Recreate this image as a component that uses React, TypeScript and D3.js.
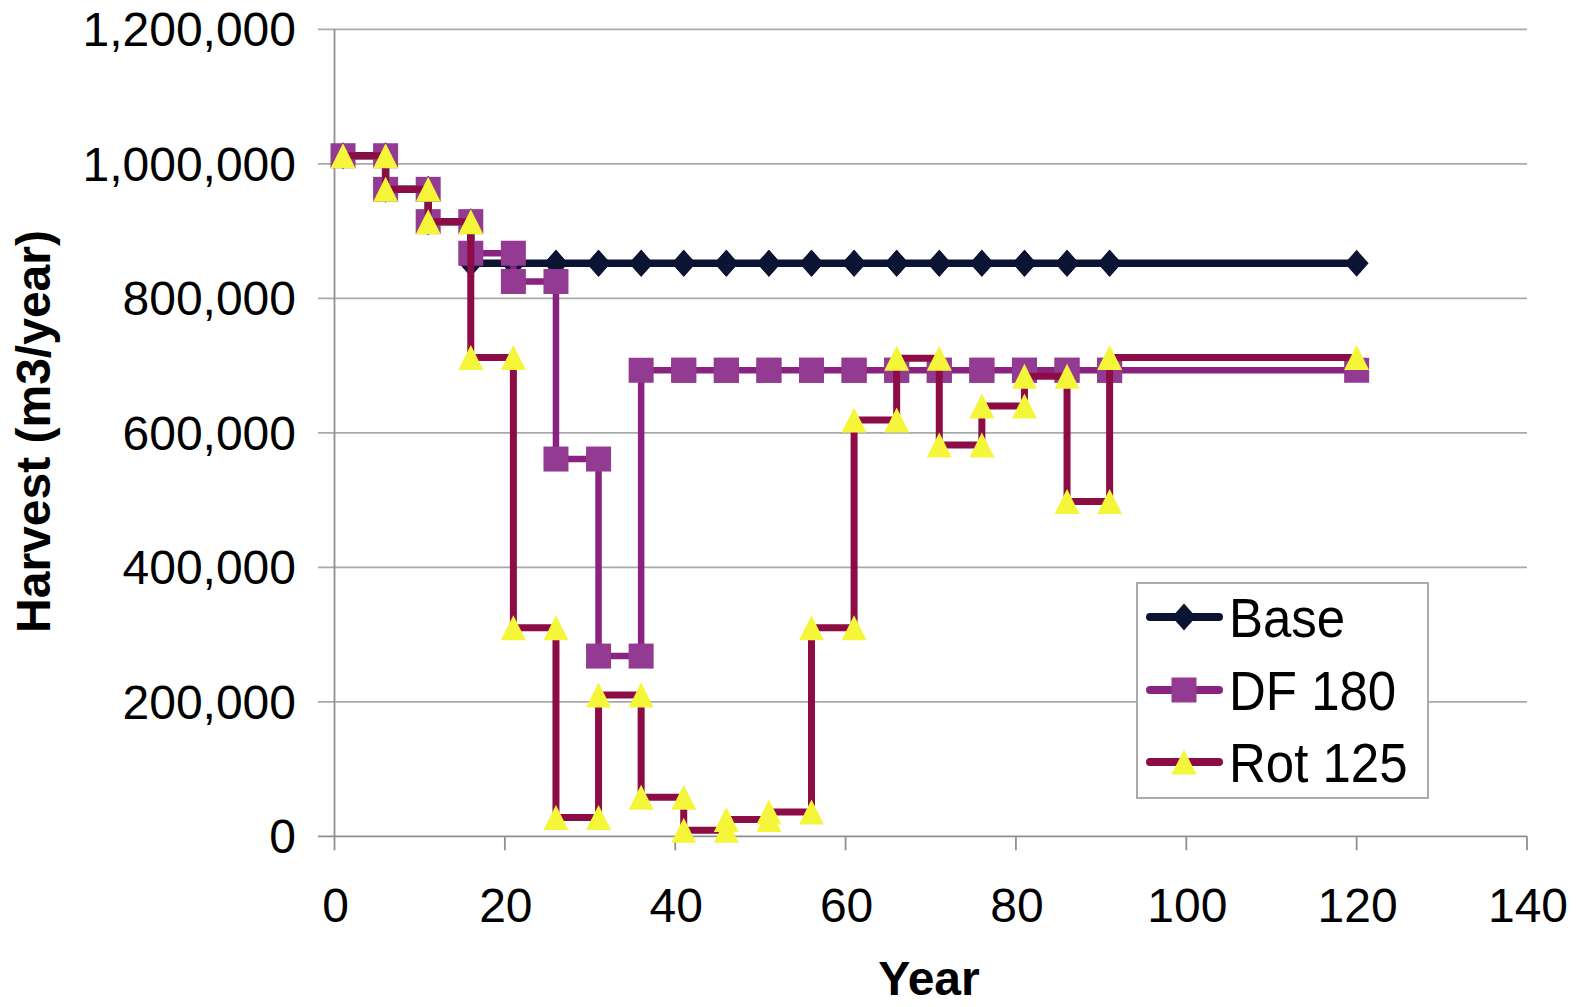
import React from "react";
import * as d3 from "d3";

// Period boundaries (years)
const years = [1, 6, 11, 16, 21, 26, 31, 36, 41, 46, 51, 56, 61, 66, 71, 76, 81, 86, 91, 120];

// Harvest level held during each period [years[i], years[i+1]] (m3/year)
const baseValues = [1012000, 962000, 914000, 852000, 852000, 852000, 852000, 852000, 852000, 852000, 852000, 852000, 852000, 852000, 852000, 852000, 852000, 852000, 852000];
const df180Values = [1012000, 962000, 914000, 867000, 825000, 561000, 268000, 693000, 693000, 693000, 693000, 693000, 693000, 693000, 693000, 693000, 693000, 693000, 693000];
const rot125Values = [1012000, 962000, 914000, 712000, 310000, 28000, 210000, 58000, 9000, 25000, 36000, 310000, 619000, 711000, 582000, 640000, 684000, 498000, 712000];

const xTicks = [0, 20, 40, 60, 80, 100, 120, 140];
const yTicks = [0, 200000, 400000, 600000, 800000, 1000000, 1200000];

const seriesNames = ["Base", "DF 180", "Rot 125"];

const FONT = "'Liberation Sans', Arial, Helvetica, sans-serif";

type Pt = [number, number];

function stepPoints(vals: number[]): Pt[] {
  const pts: Pt[] = [];
  vals.forEach((v, i) => {
    pts.push([years[i], v]);
    pts.push([years[i + 1], v]);
  });
  return pts;
}

export default function App() {
  const W = 1576;
  const H = 1007;
  const x = d3.scaleLinear().domain([0, 140]).range([334.5, 1527]);
  const y = d3.scaleLinear().domain([0, 1200000]).range([836.3, 29.3]);
  const line = d3
    .line<Pt>()
    .x((d) => x(d[0]))
    .y((d) => y(d[1]));

  const basePts = stepPoints(baseValues);
  const dfPts = stepPoints(df180Values);
  const rotPts = stepPoints(rot125Values);

  const baseColor = "#0b1433";
  const dfLine = "#8a237f";
  const dfFill = "#933a93";
  const rotLine = "#8c0c45";
  const triFill = "#f5f53a";

  const diamond = (cx: number, cy: number, key: string) => (
    <path
      key={key}
      d={`M${cx},${cy - 13.5}L${cx + 12},${cy}L${cx},${cy + 13.5}L${cx - 12},${cy}Z`}
      fill={baseColor}
    />
  );
  const square = (cx: number, cy: number, key: string) => (
    <rect key={key} x={cx - 12.5} y={cy - 12.5} width={25} height={25} fill={dfFill} />
  );
  const triangle = (cx: number, cy: number, key: string) => (
    <path
      key={key}
      d={`M${cx},${cy - 12.5}L${cx + 12.5},${cy + 12.5}L${cx - 12.5},${cy + 12.5}Z`}
      fill={triFill}
    />
  );

  const legendY = [617, 690, 762];
  const legendColors = [baseColor, dfLine, rotLine];
  const legendMarkers = [diamond, square, triangle];

  return (
    <svg width={W} height={H} style={{ display: "block", position: "absolute", left: 0, top: 0 }}>
      <rect x={0} y={0} width={W} height={H} fill="#ffffff" />
      {/* gridlines */}
      {yTicks.map((t) => (
        <line
          key={"g" + t}
          x1={318}
          x2={x(140)}
          y1={y(t)}
          y2={y(t)}
          stroke={t === 0 ? "#8f8f8f" : "#a9a9a9"}
          strokeWidth={1.8}
        />
      ))}
      {/* y axis */}
      <line x1={x(0)} x2={x(0)} y1={y(1200000)} y2={y(0)} stroke="#8f8f8f" strokeWidth={1.8} />
      {/* x ticks */}
      {xTicks.map((t) => (
        <line key={"xt" + t} x1={x(t)} x2={x(t)} y1={y(0)} y2={y(0) + 14} stroke="#8f8f8f" strokeWidth={1.8} />
      ))}
      {/* y tick labels */}
      {yTicks.map((t) => (
        <text
          key={"yl" + t}
          x={296}
          y={y(t) + 17}
          textAnchor="end"
          fontFamily={FONT}
          fontSize={48}
          fill="#000"
        >
          {d3.format(",")(t)}
        </text>
      ))}
      {/* x tick labels */}
      {xTicks.map((t) => (
        <text
          key={"xl" + t}
          x={x(t) + 1}
          y={921.5}
          textAnchor="middle"
          fontFamily={FONT}
          fontSize={48}
          fill="#000"
        >
          {t}
        </text>
      ))}
      {/* axis titles */}
      <text
        x={929}
        y={995}
        textAnchor="middle"
        fontFamily={FONT}
        fontWeight="bold"
        fontSize={48}
      >
        Year
      </text>
      <text
        transform="translate(50,431.5) rotate(-90)"
        textAnchor="middle"
        fontFamily={FONT}
        fontWeight="bold"
        fontSize={48}
      >
        Harvest (m3/year)
      </text>

      {/* Base */}
      <path d={line(basePts) || ""} fill="none" stroke={baseColor} strokeWidth={7.5} strokeLinejoin="round" strokeLinecap="round" />
      {basePts.map((p, i) => diamond(x(p[0]), y(p[1]), "bd" + i))}
      {/* DF 180 */}
      <path d={line(dfPts) || ""} fill="none" stroke={dfLine} strokeWidth={6.5} strokeLinejoin="round" strokeLinecap="round" />
      {dfPts.map((p, i) => square(x(p[0]), y(p[1]), "ds" + i))}
      {/* Rot 125 */}
      <path d={line(rotPts) || ""} fill="none" stroke={rotLine} strokeWidth={7} strokeLinejoin="round" strokeLinecap="round" />
      {rotPts.map((p, i) => triangle(x(p[0]), y(p[1]), "rt" + i))}

      {/* legend */}
      <rect x={1137} y={583} width={291} height={215} fill="#ffffff" stroke="#a3a3a3" strokeWidth={1.8} />
      {seriesNames.map((name, i) => (
        <g key={"lg" + i}>
          <line
            x1={1150}
            x2={1219}
            y1={legendY[i]}
            y2={legendY[i]}
            stroke={legendColors[i]}
            strokeWidth={8}
            strokeLinecap="round"
          />
          {legendMarkers[i](1184, legendY[i], "lm" + i)}
          <text
            transform={`translate(1229,${legendY[i] + 20}) scale(1,1.08)`}
            fontFamily={FONT}
            fontSize={51}
            fill="#000"
          >
            {name}
          </text>
        </g>
      ))}
    </svg>
  );
}
